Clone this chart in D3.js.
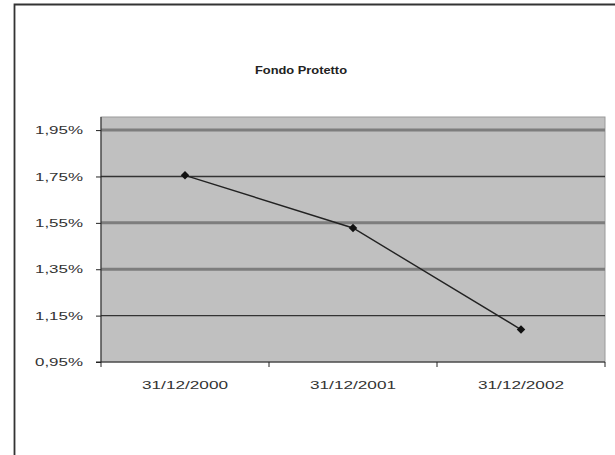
<!DOCTYPE html>
<html><head><meta charset="utf-8">
<script src="https://cdn.jsdelivr.net/npm/d3@7"></script>
<style>body{margin:0;background:#fff}svg{display:block}text{font-family:"Liberation Sans",Arial,sans-serif}</style>
</head><body>
<script>
const categories = ["31/12/2000", "31/12/2001", "31/12/2002"];
const values = [1.755, 1.528, 1.09];
const yTicks = [0.95, 1.15, 1.35, 1.55, 1.75, 1.95];
const title = "Fondo Protetto";

const W = 615, H = 455;
const svg = d3.select("body").append("svg").attr("width", W).attr("height", H);
svg.append("rect").attr("width", W).attr("height", H).attr("fill", "#fff");
svg.append("path").attr("d", `M14.5,${H} V4.5 H${W}`).attr("fill", "none").attr("stroke", "#333").attr("stroke-width", 1.8);

const m = {l: 101, t: 117, r: 605, b: 362};
const x = d3.scaleBand().domain(categories).range([m.l, m.r]);
const y = d3.scaleLinear().domain([0.95, 2.0065]).range([m.b, m.t]);

svg.append("rect").attr("x", m.l).attr("y", m.t).attr("width", m.r - m.l).attr("height", m.b - m.t)
  .attr("fill", "#c0c0c0").attr("stroke", "#9a9a9a").attr("stroke-width", 1);

const heavy = new Set([1.95, 1.55, 1.35]);
svg.append("g").selectAll("line").data(yTicks.filter(d => d > 0.95)).join("line")
  .attr("x1", m.l).attr("x2", m.r).attr("y1", d => y(d)).attr("y2", d => y(d))
  .attr("stroke", d => heavy.has(d) ? "#7d7d7d" : "#333")
  .attr("stroke-width", d => heavy.has(d) ? 3 : 1.4);

const fmt = d => d.toFixed(2).replace(".", ",") + "%";
const yAxis = d3.axisLeft(y).tickValues(yTicks).tickFormat(fmt).tickSize(5).tickPadding(13);
const gy = svg.append("g").attr("transform", `translate(${m.l},0)`).call(yAxis);
gy.select(".domain").attr("stroke", "#222").attr("d", `M-5,${m.b}H0V${m.t}`);
gy.selectAll(".tick line").attr("stroke", "#222");
gy.selectAll("text").attr("font-size", 11).attr("fill", "#333")
  .attr("textLength", 48).attr("lengthAdjust", "spacingAndGlyphs");

const xAxis = d3.axisBottom(x).tickSize(0).tickPadding(19);
const gx = svg.append("g").attr("transform", `translate(0,${m.b})`).call(xAxis);
gx.select(".domain").attr("stroke", "#222").attr("d", `M${m.l},0H${m.r}`);
gx.selectAll("text").attr("font-size", 11).attr("fill", "#333")
  .attr("textLength", 86).attr("lengthAdjust", "spacingAndGlyphs");
const bounds = categories.map(c => x(c)).concat([m.r]);
svg.append("g").selectAll("line").data(bounds).join("line")
  .attr("x1", d => d).attr("x2", d => d).attr("y1", m.b).attr("y2", m.b + 5)
  .attr("stroke", "#222");

const cx = c => x(c) + x.bandwidth() / 2;
svg.append("path").datum(values)
  .attr("d", d3.line().x((d, i) => cx(categories[i])).y(d => y(d)))
  .attr("fill", "none").attr("stroke", "#222").attr("stroke-width", 1.4);
svg.append("g").selectAll("path").data(values).join("path")
  .attr("d", d3.symbol(d3.symbolSquare, 36))
  .attr("transform", (d, i) => `translate(${cx(categories[i])},${y(d)}) rotate(45)`)
  .attr("fill", "#111");

svg.append("text").attr("x", 301).attr("y", 74).attr("text-anchor", "middle")
  .attr("font-size", 11).attr("font-weight", "bold").attr("fill", "#222")
  .attr("textLength", 92).attr("lengthAdjust", "spacingAndGlyphs").text(title);
</script>
</body></html>
